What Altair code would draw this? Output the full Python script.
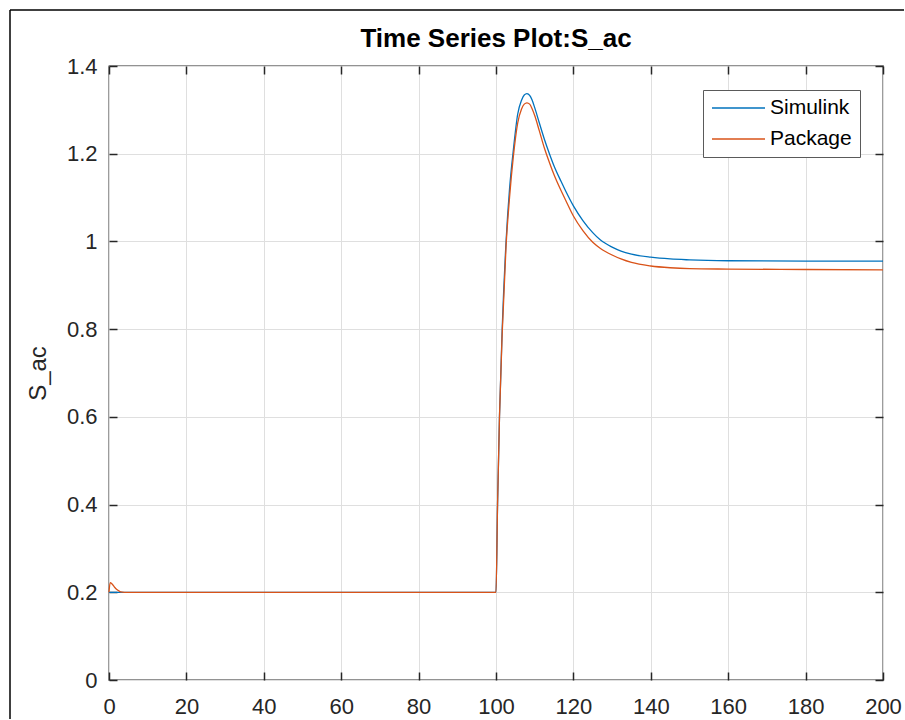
import altair as alt
import pandas as pd

# ---- data ----
t = [0, 0.3, 0.8, 1.5, 2.2, 3, 4, 100, 100.4, 100.9, 101.6, 102.6, 103.5, 104.5,
     105.6, 106.6, 107.3, 108.0, 108.7, 109.3, 110, 111.2, 112.5, 113.8, 115,
     116.8, 118, 120, 122.5, 125, 127, 130, 132.3, 135, 140, 145, 150, 160, 180, 200]
simulink = [0.2, 0.2, 0.2, 0.2, 0.2, 0.2, 0.2, 0.2, 0.40, 0.60, 0.80, 1.00, 1.12, 1.21,
            1.29, 1.322, 1.334, 1.337, 1.333, 1.323, 1.305, 1.270, 1.233, 1.200, 1.172,
            1.137, 1.115, 1.081, 1.047, 1.020, 1.003, 0.987, 0.978, 0.971, 0.964, 0.960,
            0.958, 0.956, 0.955, 0.955]
package = [0.2, 0.222, 0.219, 0.211, 0.205, 0.201, 0.2, 0.2, 0.40, 0.60, 0.79, 0.99, 1.10, 1.195,
           1.27, 1.302, 1.313, 1.316, 1.313, 1.303, 1.287, 1.252, 1.213, 1.180, 1.152,
           1.116, 1.094, 1.058, 1.024, 0.998, 0.984, 0.969, 0.960, 0.952, 0.944, 0.940,
           0.938, 0.937, 0.936, 0.935]
series_names = ["Simulink", "Package"]
series_colors = ["#0072BD", "#D95319"]
x_ticks = [0, 20, 40, 60, 80, 100, 120, 140, 160, 180, 200]
y_ticks = [0, 0.2, 0.4, 0.6, 0.8, 1, 1.2, 1.4]
title_text = "Time Series Plot:S_ac"
y_title = "S_ac"

df = pd.DataFrame({
    "t": t + t,
    "value": simulink + package,
    "series": [series_names[0]] * len(t) + [series_names[1]] * len(t),
})

W, H = 774, 614
FONT = "Liberation Sans"
INK = "#262626"
GRID = "#dfdfdf"

xscale = alt.Scale(domain=[0, 200], nice=False, zero=False)
yscale = alt.Scale(domain=[0, 1.4], nice=False, zero=False)

legend = alt.Legend(
    orient="none", legendX=594, legendY=24, title=None, direction="vertical",
    padding=8, strokeColor="#5a5a5a", fillColor="white", cornerRadius=0,
    labelFont=FONT, labelFontSize=21, labelColor="black",
    symbolType="stroke", symbolSize=2809, symbolStrokeWidth=1.5,
    labelOffset=4, rowPadding=10, clipHeight=20,
)
color = alt.Color("series:N", scale=alt.Scale(domain=series_names, range=series_colors),
                  legend=legend)

main_x = alt.Axis(values=x_ticks, grid=True, gridColor=GRID, gridWidth=1, ticks=False,
                  tickSize=0, domain=False, labelFont=FONT, labelFontSize=22,
                  labelColor=INK, labelPadding=16, labelFlush=False, labelOverlap=False,
                  title=None)
main_y = alt.Axis(values=y_ticks, format="~g", grid=True, gridColor=GRID, gridWidth=1,
                  ticks=False, tickSize=0, domain=False, labelFont=FONT, labelFontSize=22,
                  labelColor=INK, labelPadding=12, labelFlush=False, labelOverlap=False,
                  title=y_title, titleFont=FONT,
                  titleFontSize=24, titleFontWeight="normal", titleColor=INK,
                  titlePadding=16)

base = alt.Chart(df)
blue = base.transform_filter(alt.datum.series == "Simulink").mark_line(
    interpolate="monotone", strokeWidth=1.3
).encode(
    x=alt.X("t:Q", scale=xscale, axis=main_x),
    y=alt.Y("value:Q", scale=yscale, axis=main_y),
    color=color,
)
orange = base.transform_filter(alt.datum.series == "Package").mark_line(
    interpolate="monotone", strokeWidth=1.3
).encode(
    x=alt.X("t:Q", scale=xscale, axis=None),
    y=alt.Y("value:Q", scale=yscale, axis=None),
    color=color,
)

tc = dict(labels=False, domain=False, grid=False, ticks=True, tickSize=8,
          tickWidth=1.5, tickColor=INK, title=None)
ticks_a = base.mark_point(opacity=0, size=1).encode(
    x=alt.X("t:Q", scale=xscale, axis=alt.Axis(orient="top", offset=-H, values=x_ticks, **tc)),
    y=alt.Y("value:Q", scale=yscale, axis=alt.Axis(orient="right", offset=-W, values=y_ticks, **tc)),
)
ticks_b = base.mark_point(opacity=0, size=1).encode(
    x=alt.X("t:Q", scale=xscale, axis=alt.Axis(orient="bottom", offset=-H, values=x_ticks, **tc)),
    y=alt.Y("value:Q", scale=yscale, axis=alt.Axis(orient="left", offset=-W, values=y_ticks, **tc)),
)

one = pd.DataFrame({"k": [0]})
frame_top = alt.Chart(one).mark_rule(color="black", strokeWidth=1.5).encode(
    x=alt.value(-99), x2=alt.value(795), y=alt.value(-56)
)
frame_left = alt.Chart(one).mark_rule(color="black", strokeWidth=1.5).encode(
    x=alt.value(-99), y=alt.value(-56), y2=alt.value(653)
)
title_mark = alt.Chart(one).mark_text(
    font=FONT, fontSize=26, fontWeight="bold", color="black",
    align="center", baseline="alphabetic"
).encode(x=alt.value(W / 2), y=alt.value(-19), text=alt.value(title_text))

chart = alt.layer(blue, orange, ticks_a, ticks_b, frame_top, frame_left, title_mark).resolve_axis(
    x="independent", y="independent"
).properties(
    width=W, height=H,
    padding={"left": 9, "top": 9, "right": 0, "bottom": 0},
    background="white",
).configure_view(stroke=INK, strokeWidth=1.3)

chart.save("out.html", embed_options={"renderer": "svg", "actions": False})
